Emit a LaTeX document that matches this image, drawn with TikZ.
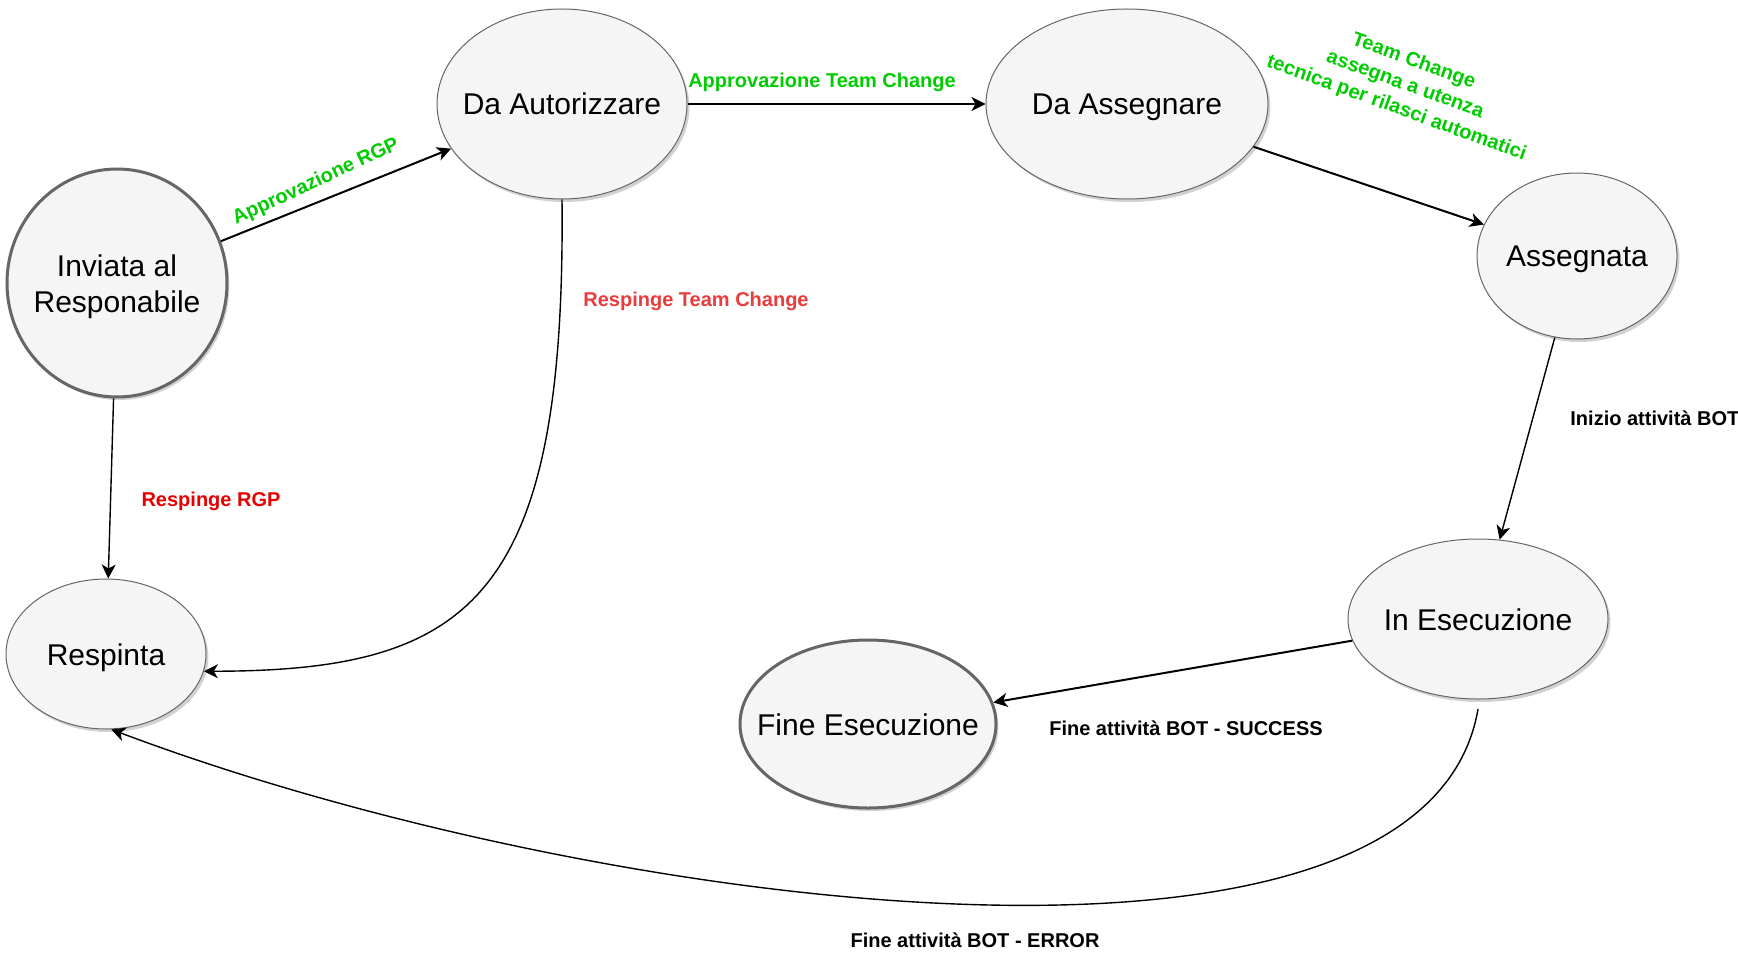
\documentclass[tikz,border=0pt]{standalone}
\usepackage{fontspec}
\setmainfont{Liberation Sans}
\usetikzlibrary{shapes.geometric,arrows.meta,shadows}
\definecolor{nodefill}{HTML}{F5F5F5}
\definecolor{nodeline}{HTML}{666666}
\definecolor{okgreen}{HTML}{00CC00}
\definecolor{rejred}{HTML}{E60000}
\definecolor{rejred2}{HTML}{EA3C3C}
\newcommand{\zbox}[1]{\makebox[0pt][c]{\raisebox{-5.5pt}[0pt][0pt]{\begin{tabular}{@{}c@{}}#1\end{tabular}}}}
\tikzset{
  state/.style={ellipse, draw=nodeline, fill=nodefill, line width=0.5pt, inner sep=0pt,
    font=\fontsize{15}{18}\selectfont,
    drop shadow={shadow xshift=1.2pt, shadow yshift=-1.5pt, opacity=0.18, fill=black}},
  endstate/.style={state, line width=1.5pt},
  conn/.style={line width=0.7pt, -{Stealth[length=7pt, width=7pt, inset=2pt]}},
  connb/.style={conn, line width=1pt},
  lbl/.style={font=\fontsize{10}{12.5}\selectfont\bfseries, inner sep=1pt, align=center},
}
\begin{document}
\begin{tikzpicture}[x=0.5pt, y=-0.5pt]
\useasboundingbox (0,0) rectangle (1738,952);
% nodes
\node[endstate, minimum width=110pt, minimum height=114pt] (inv) at (117,283) {\zbox{Inviata al\\Responabile}};
\node[state, minimum width=125pt, minimum height=95pt] (aut) at (562,104) {\zbox{Da Autorizzare}};
\node[state, minimum width=141pt, minimum height=95pt] (ass) at (1127,104) {\zbox{Da Assegnare}};
\node[state, minimum width=100pt, minimum height=83pt] (asg) at (1577,256) {\zbox{Assegnata}};
\node[state, minimum width=130pt, minimum height=80pt] (ese) at (1478,619) {\zbox{In Esecuzione}};
\node[endstate, minimum width=128pt, minimum height=84pt] (fin) at (868,724) {\zbox{Fine Esecuzione}};
\node[state, minimum width=100pt, minimum height=75pt] (res) at (106,654) {\zbox{Respinta}};
% connectors
\draw[connb] (inv) -- (aut);
\draw[connb] (aut) -- (ass);
\draw[connb] (ass) -- (asg);
\draw[conn] (asg) -- (ese);
\draw[connb] (ese) -- (fin);
\draw[conn] (inv) -- (res);
\draw[conn] (aut.south) .. controls (566,600) and (470,671) .. (res.-10);
\coordinate (e1) at (1478,709);
\draw[conn] (e1) .. controls (1425,1020) and (590,910) .. (res.-86);
% labels
\node[lbl, text=okgreen, rotate=25] (l1) at (316,182) {Approvazione RGP};
\node[lbl, text=okgreen] (l2) at (822,82) {Approvazione Team Change};
\node[lbl, text=okgreen, rotate=-20] (l3) at (1405,85) {Team Change\\assegna a utenza\\tecnica per rilasci automatici};
\node[lbl, anchor=west] (l4) at (1568,418) {Inizio attività BOT};
\node[lbl, text=rejred] (l5) at (211,501) {Respinge RGP};
\node[lbl, text=rejred2] (l6) at (696,301) {Respinge Team Change};
\node[lbl] (l7) at (1186,728) {Fine attività BOT - SUCCESS};
\node[lbl] (l8) at (975,940) {Fine attività BOT - ERROR};
\end{tikzpicture}
\end{document}
